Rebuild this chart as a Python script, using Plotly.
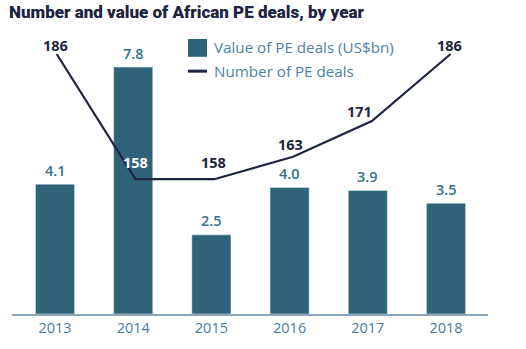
import plotly.graph_objects as go

years = ["2013", "2014", "2015", "2016", "2017", "2018"]
deal_value = [4.1, 7.8, 2.5, 4.0, 3.9, 3.5]
deal_count = [186, 158, 158, 163, 171, 186]

# label offsets (px) for line labels: (xshift, yshift)
line_label_offsets = [(-1, 9), (0, 17), (-1, 17), (-3, 12), (-12, 10), (-1, 9)]
line_label_colors = ["#1e2540", "#ffffff", "#1e2540", "#1e2540", "#1e2540", "#1e2540"]

BAR = "#2e6379"
LINE = "#1e2540"
TICK = "#4f82a3"
FONT = "Open Sans"

L, R, T, B = 12, 38, 40, 32
W, H = 526, 349
pw, ph = W - L - R, H - T - B

idx = list(range(len(years)))

fig = go.Figure()
fig.add_trace(go.Bar(x=idx, y=deal_value, marker_color=BAR, width=0.5,
                     xaxis="x", yaxis="y", showlegend=False, hoverinfo="skip"))
fig.add_trace(go.Scatter(x=idx, y=deal_count, mode="lines",
                         line=dict(color=LINE, width=2.2),
                         xaxis="x2", yaxis="y2", showlegend=False, hoverinfo="skip"))

ann = []
for i, v in enumerate(deal_value):
    ann.append(dict(x=i, y=v, xref="x", yref="y", text=f"{v:.1f}", showarrow=False,
                    yshift=14, font=dict(family=FONT, size=14.5, color="#36708a", weight=600)))
for i, v in enumerate(deal_count):
    dx, dy = line_label_offsets[i]
    ann.append(dict(x=i, y=v, xref="x2", yref="y2", text=str(v), showarrow=False,
                    xshift=dx, yshift=dy,
                    font=dict(family=FONT, size=14.5, color=line_label_colors[i], weight=700)))

def px2x(px):
    return (px - L) / pw

def px2y(py):
    return (H - B - py) / ph

# legend (manual)
shapes = [
    dict(type="rect", xref="paper", yref="paper", x0=px2x(188), x1=px2x(207),
         y0=px2y(57), y1=px2y(39), fillcolor=BAR, line=dict(width=0)),
    dict(type="line", xref="paper", yref="paper", x0=px2x(188), x1=px2x(207),
         y0=px2y(71.5), y1=px2y(71.5), line=dict(color=LINE, width=3)),
]
ann.append(dict(xref="paper", yref="paper", x=px2x(212), y=px2y(47), xanchor="left",
                yanchor="middle", text="Value of PE deals (US$bn)", showarrow=False,
                font=dict(family=FONT, size=15.2, color=TICK)))
ann.append(dict(xref="paper", yref="paper", x=px2x(212), y=px2y(71), xanchor="left",
                yanchor="middle", text="Number of PE deals", showarrow=False,
                font=dict(family=FONT, size=15.2, color=TICK)))

fig.update_layout(
    width=W, height=H,
    margin=dict(l=L, r=R, t=T, b=B),
    plot_bgcolor="white", paper_bgcolor="white",
    title=dict(text="Number and value of African PE deals, by year",
               x=9 / W, xanchor="left", y=1 - 12 / H, yanchor="middle",
               font=dict(family="Roboto", size=17, color="#1c2340", weight=900)),
    xaxis=dict(range=[-0.55, 5.537], tickmode="array", tickvals=idx, ticktext=years,
               showgrid=False, zeroline=False, showline=True, linecolor="#8aa6b8",
               linewidth=1.5, ticks="", tickfont=dict(family=FONT, size=14.5, color="#4a7c9c"),
               fixedrange=True),
    xaxis2=dict(range=[-0.567, 5.474], overlaying="x", visible=False),
    yaxis=dict(range=[0, ph / 32], visible=False),
    yaxis2=dict(range=[127.85, 189.13], overlaying="y", visible=False),
    annotations=ann, shapes=shapes,
)

fig.write_html("out.html")
